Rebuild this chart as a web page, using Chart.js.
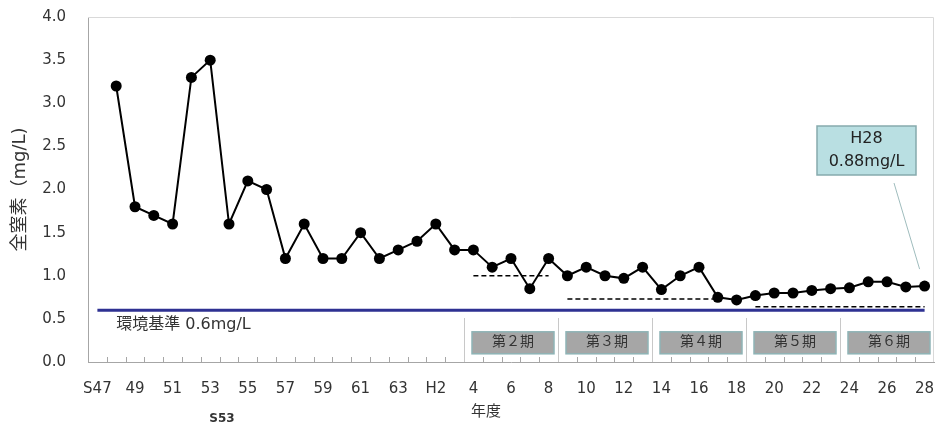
<!DOCTYPE html>
<html>
<head>
<meta charset="utf-8">
<script src="https://cdn.jsdelivr.net/npm/chart.js@4"></script>
<style>
  html, body { margin: 0; padding: 0; background: #fff; overflow: hidden; }
  #wrap { width: 936px; height: 423px; }
  canvas { display: block; }
</style>
</head>
<body>
<div id="wrap"><canvas id="myChart" width="936" height="423"></canvas></div>
<script>
// fiscal years S47 .. H28
const years = [
    'S47', 'S48', 'S49', 'S50', 'S51', 'S52', 'S53', 'S54', 'S55', 'S56',
    'S57', 'S58', 'S59', 'S60', 'S61', 'S62', 'S63', 'H1', 'H2', 'H3',
    'H4', 'H5', 'H6', 'H7', 'H8', 'H9', 'H10', 'H11', 'H12', 'H13',
    'H14', 'H15', 'H16', 'H17', 'H18', 'H19', 'H20', 'H21', 'H22', 'H23',
    'H24', 'H25', 'H26', 'H27', 'H28'
];

// labels shown under the axis (every other year)
const tickLabels = [
    'S47', '', '49', '', '51', '', '53', '', '55', '',
    '57', '', '59', '', '61', '', '63', '', 'H2', '',
    '4', '', '6', '', '8', '', '10', '', '12', '',
    '14', '', '16', '', '18', '', '20', '', '22', '',
    '24', '', '26', '', '28'
];

// total nitrogen (mg/L)
const totalNitrogen = [
    null, 3.2, 1.8, 1.7, 1.6, 3.3, 3.5, 1.6, 2.1, 2.0,
    1.2, 1.6, 1.2, 1.2, 1.5, 1.2, 1.3, 1.4, 1.6, 1.3,
    1.3, 1.1, 1.2, 0.85, 1.2, 1.0, 1.1, 1.0, 0.97, 1.1,
    0.84, 1.0, 1.1, 0.75, 0.72, 0.77, 0.80, 0.80, 0.83, 0.85,
    0.86, 0.93, 0.93, 0.87, 0.88
];

const standardValue = 0.6;

// plan targets (dashed lines) per period
const targetLines = [
    { from: 'H4', to: 'H8', value: 1.0 },
    { from: 'H9', to: 'H17', value: 0.73 },
    { from: 'H19', to: 'H28', value: 0.64 }
];

// plan periods
const periodNames = ['第２期', '第３期', '第４期', '第５期', '第６期'];
const periodStarts = ['H4', 'H9', 'H14', 'H19', 'H24'];
const periodEnds = ['H8', 'H13', 'H18', 'H23', 'H28'];

const FONT = '"DejaVu Sans", "Noto Sans CJK JP", sans-serif';
const TEXT_COLOR = '#333';

function buildTargetData(t) {
    const a = years.indexOf(t.from);
    const b = years.indexOf(t.to);
    return years.map((y, i) => (i >= a && i <= b ? t.value : null));
}

// keep the plot area where the reference has it (no label overflow padding)
function fixBox(scale, key, size) {
    scale[key] = size;
    scale.paddingTop = 0;
    scale.paddingBottom = 0;
    scale.paddingLeft = 0;
    scale.paddingRight = 0;
}

/**
 * Extra drawing: plot frame, inward ticks, period boxes, notes
 */
const decorPlugin = {
    id: 'decor',
    beforeDatasetsDraw(chart) {
        const { ctx, chartArea: ca, scales: { x, y } } = chart;
        const half = (x.getPixelForValue(1) - x.getPixelForValue(0)) / 2;
        const boundary = (i) => x.getPixelForValue(i) - half;

        ctx.save();
        // frame
        ctx.strokeStyle = '#d9d9d9';
        ctx.lineWidth = 1;
        ctx.beginPath();
        ctx.moveTo(ca.left, ca.top + 0.5);
        ctx.lineTo(ca.right - 0.5, ca.top + 0.5);
        ctx.lineTo(ca.right - 0.5, ca.bottom);
        ctx.stroke();

        // inward category ticks
        ctx.strokeStyle = '#a6a6a6';
        ctx.beginPath();
        for (let i = 1; i < years.length; i++) {
            const px = Math.round(boundary(i)) + 0.5;
            ctx.moveTo(px, ca.bottom);
            ctx.lineTo(px, ca.bottom - 5);
        }
        ctx.stroke();

        // period separators and boxes
        ctx.strokeStyle = '#c8c8c8';
        ctx.beginPath();
        periodStarts.forEach((s) => {
            const px = Math.round(boundary(years.indexOf(s))) + 0.5;
            ctx.moveTo(px, y.getPixelForValue(0.51));
            ctx.lineTo(px, ca.bottom);
        });
        ctx.stroke();

        ctx.font = '14px ' + FONT;
        ctx.textAlign = 'center';
        ctx.textBaseline = 'middle';
        periodNames.forEach((name, k) => {
            const left = boundary(years.indexOf(periodStarts[k])) + 8;
            const right = boundary(years.indexOf(periodEnds[k]) + 1) - 4;
            const top = y.getPixelForValue(0.35);
            const bottom = y.getPixelForValue(0.095);
            ctx.fillStyle = '#a6a6a6';
            ctx.fillRect(left, top, right - left, bottom - top);
            ctx.strokeStyle = '#8fb4b6';
            ctx.lineWidth = 1.5;
            ctx.strokeRect(left, top, right - left, bottom - top);
            ctx.fillStyle = TEXT_COLOR;
            ctx.fillText(name, (left + right) / 2, (top + bottom) / 2);
        });
        ctx.restore();
    },
    afterDraw(chart) {
        const { ctx, chartArea: ca, scales: { x, y } } = chart;
        ctx.save();
        ctx.fillStyle = TEXT_COLOR;

        // environmental standard label
        ctx.font = '16px ' + FONT;
        ctx.textAlign = 'left';
        ctx.textBaseline = 'middle';
        ctx.fillText('環境基準 0.6mg/L', x.getPixelForValue(1), y.getPixelForValue(0.43));

        // y axis title
        ctx.save();
        ctx.translate(20, (ca.top + ca.bottom) / 2);
        ctx.rotate(-Math.PI / 2);
        ctx.textAlign = 'center';
        ctx.font = '18px ' + FONT;
        ctx.fillText('全窒素（mg/L)', 0, 0);
        ctx.restore();

        // x axis title
        ctx.textAlign = 'center';
        ctx.font = '15px ' + FONT;
        ctx.fillText('年度', 486, 412);

        // stray label under the axis
        ctx.font = 'bold 12px ' + FONT;
        ctx.fillText('S53', 222, 419);

        // callout for latest value
        const last = years.length - 1;
        const bx = 817, by = 126, bw = 99, bh = 49;
        ctx.fillStyle = '#b9dfe2';
        ctx.fillRect(bx, by, bw, bh);
        ctx.strokeStyle = '#86aaad';
        ctx.lineWidth = 1.5;
        ctx.strokeRect(bx, by, bw, bh);
        ctx.fillStyle = '#222';
        ctx.font = '16px ' + FONT;
        ctx.fillText(years[last], bx + bw / 2, by + 13);
        ctx.fillText(totalNitrogen[last].toFixed(2) + 'mg/L', bx + bw / 2, by + 36);

        ctx.strokeStyle = '#9fbcbd';
        ctx.lineWidth = 1;
        ctx.beginPath();
        ctx.moveTo(894, by + bh + 8);
        ctx.lineTo(x.getPixelForValue(last) - 5, y.getPixelForValue(totalNitrogen[last]) - 17);
        ctx.stroke();
        ctx.restore();
    }
};

const datasets = [
    {
        label: '全窒素',
        data: totalNitrogen,
        borderColor: '#000',
        backgroundColor: '#000',
        borderWidth: 2,
        pointRadius: 5.5,
        pointBackgroundColor: '#000',
        pointBorderWidth: 0,
        tension: 0,
        order: 0
    },
    {
        label: '環境基準',
        data: years.map(() => standardValue),
        borderColor: '#2e3192',
        borderWidth: 3,
        pointRadius: 0,
        order: 2
    }
];

targetLines.forEach((t) => {
    datasets.push({
        label: 'target',
        data: buildTargetData(t),
        borderColor: '#000',
        borderWidth: 1.5,
        borderDash: [5, 3],
        pointRadius: 0,
        spanGaps: false,
        order: 1
    });
});

new Chart(document.getElementById('myChart'), {
    type: 'line',
    data: { labels: years, datasets: datasets },
    options: {
        responsive: false,
        animation: false,
        devicePixelRatio: 1,
        layout: { autoPadding: false, padding: { top: 17, right: 2, left: 0, bottom: 0 } },
        plugins: {
            legend: { display: false },
            tooltip: { enabled: false }
        },
        scales: {
            x: {
                type: 'category',
                offset: true,
                grid: { display: true, drawOnChartArea: false, drawTicks: false },
                border: { display: true, color: '#a6a6a6', width: 1 },
                ticks: {
                    autoSkip: false,
                    maxRotation: 0,
                    padding: 18,
                    color: TEXT_COLOR,
                    font: { family: FONT, size: 15 },
                    callback: (v, i) => tickLabels[i]
                },
                afterFit: (scale) => fixBox(scale, 'height', 61)
            },
            y: {
                min: 0,
                max: 4,
                grid: { display: true, drawOnChartArea: false, drawTicks: false },
                border: { display: true, color: '#a6a6a6', width: 1 },
                ticks: {
                    stepSize: 0.5,
                    padding: 22,
                    color: TEXT_COLOR,
                    font: { family: FONT, size: 15 },
                    callback: (v) => v.toFixed(1)
                },
                afterFit: (scale) => fixBox(scale, 'width', 88)
            }
        }
    },
    plugins: [decorPlugin]
});
</script>
</body>
</html>
